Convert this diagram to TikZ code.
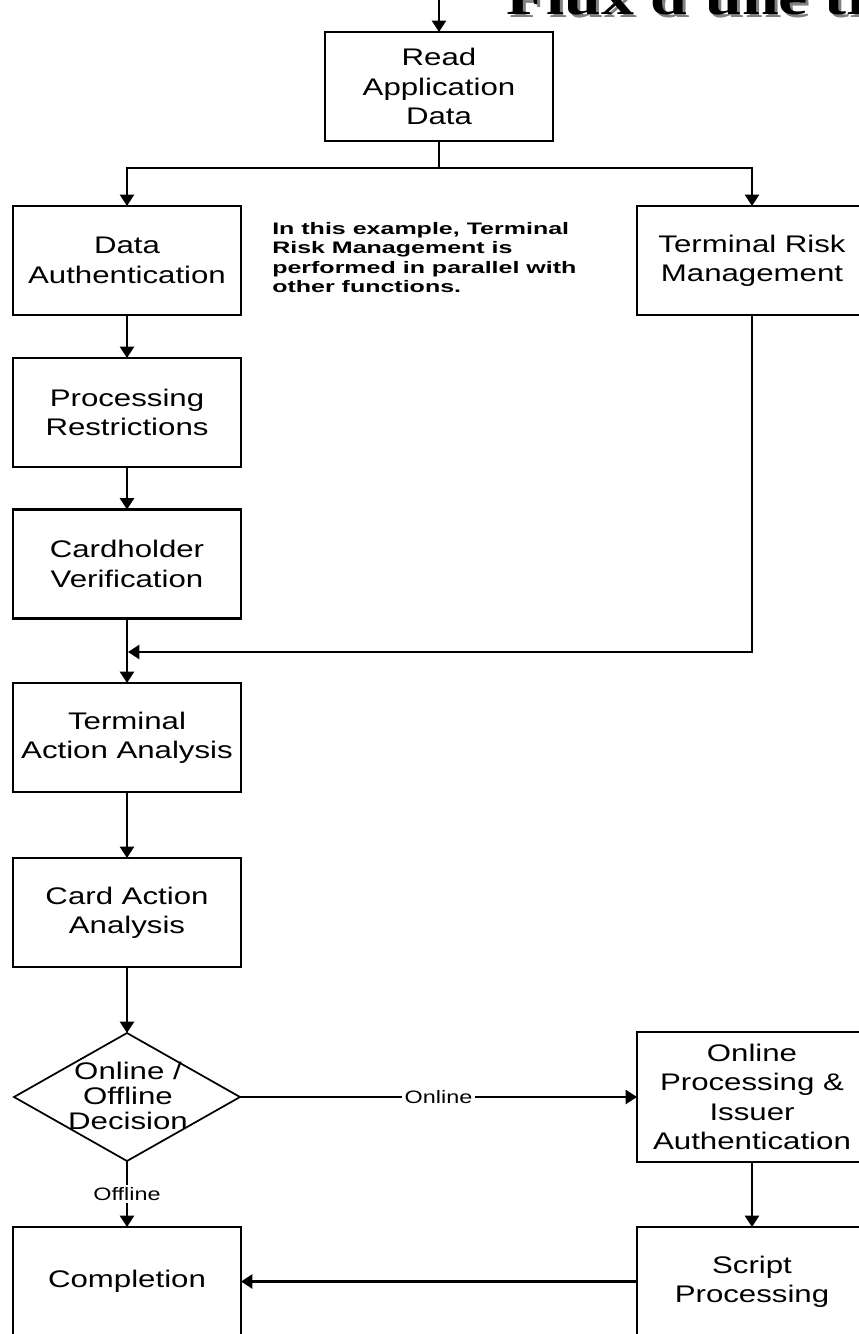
\documentclass[tikz,border=0pt]{standalone}
\usepackage{fontspec}
\usetikzlibrary{arrows.meta,shapes.geometric,calc}
\setmainfont{Liberation Sans}
\newfontfamily\boxfont[FakeStretch=1.3]{Liberation Sans}
\newfontfamily\notefont[FakeStretch=1.5]{Liberation Sans Bold}
\newfontfamily\titlefont[FakeStretch=1.3]{Liberation Serif Bold}
\newcommand\boxtxt{\boxfont\fontsize{18pt}{22pt}\selectfont}
\newcommand\diatxt{\boxfont\fontsize{18pt}{18.75pt}\selectfont}
\newcommand\lbltxt{\boxfont\fontsize{13.5pt}{16pt}\selectfont}
\newcommand\notetxt{\notefont\fontsize{12.5pt}{14.6pt}\selectfont}
\definecolor{shadowgrey}{RGB}{128,128,128}
\tikzset{
  box/.style={draw=black, line width=1.7pt, minimum width=171pt, minimum height=81.75pt,
              inner sep=0pt, outer sep=0pt, align=center, font=\boxtxt, fill=white},
  decision/.style={diamond, draw=black, line width=1.3pt, minimum width=169.5pt,
              minimum height=96pt, inner sep=0pt, outer sep=0pt},
  link/.style={line width=1.7pt},
  arr/.style={link, -{Triangle[width=10.5pt,length=8.5pt]}},
  lbl/.style={fill=white, font=\lbltxt, inner sep=2pt},
  note/.style={font=\notetxt, align=left, inner sep=0pt, anchor=north west},
  title/.style={font=\titlefont\fontsize{38pt}{40pt}\selectfont, inner sep=0pt, anchor=base west}
}
\begin{document}
\begin{tikzpicture}[x=0.75pt, y=-0.75pt]
  \path[use as bounding box] (0,0) rectangle (859,1334);
  \clip (0,0) rectangle (859,1334);
  \fill[white] (0,0) rectangle (859,1334);

  % heading, cut by the top edge
  \node[title, text=shadowgrey] (titleshadow) at (509,18) {Flux d'une transaction};
  \node[title, text=black] (titletext) at (506,15) {Flux d'une transaction};

  % process boxes
  \node[box] (read) at (439,86.5) {Read\\Application\\Data};
  \node[box] (da)   at (127,260.5) {Data\\Authentication};
  \node[box, minimum width=172.5pt] (trm) at (752,260.5) {Terminal Risk\\Management};
  \node[box] (pr)   at (127,412.5) {Processing\\Restrictions};
  \node[box] (cv)   at (127,564) {Cardholder\\Verification};
  \node[box] (taa)  at (127,737.5) {Terminal\\Action Analysis};
  \node[box] (caa)  at (127,912.5) {Card Action\\Analysis};
  \node[decision] (dec) at (127,1097) {};
  \node[font=\diatxt, align=center, inner sep=0pt] (dectext) at (128,1096) {Online /\\Offline\\Decision};
  \node[box, minimum width=172.5pt, minimum height=97.5pt] (op) at (752,1097)
        {Online\\Processing \&\\Issuer\\Authentication};
  \node[box] (comp) at (127,1281.5) {Completion};
  \node[box, minimum width=172.5pt] (sp) at (752,1281.5) {Script\\Processing};

  % side remark
  \node[note] (remark) at (272,222) {In this example, Terminal\\Risk Management is\\performed in parallel with\\other functions.};

  % connectors
  \coordinate (entry) at (439,0);
  \coordinate (fork) at (439,168);
  \coordinate (merge) at (752,652);
  \draw[arr] (entry) -- (read.north);
  \draw[link] (read.south) -- (fork);
  \draw[arr] (fork) -| (da.north);
  \draw[arr] (fork) -| (trm.north);
  \draw[arr] (da) -- (pr);
  \draw[arr] (pr) -- (cv);
  \draw[arr] (cv) -- (taa);
  \draw[arr] (trm.south) -- (merge) -- ($(cv.south |- merge)+(1,0)$);
  \draw[arr] (taa) -- (caa);
  \draw[arr] (caa) -- (dec.north);
  \draw[arr] (dec.east) -- node[lbl] {Online} (op.west);
  \draw[arr] (dec.south) -- node[lbl] {Offline} (comp.north);
  \draw[arr] (op) -- (sp);
  \draw[arr] (sp.west) -- (comp.east);
\end{tikzpicture}
\end{document}
